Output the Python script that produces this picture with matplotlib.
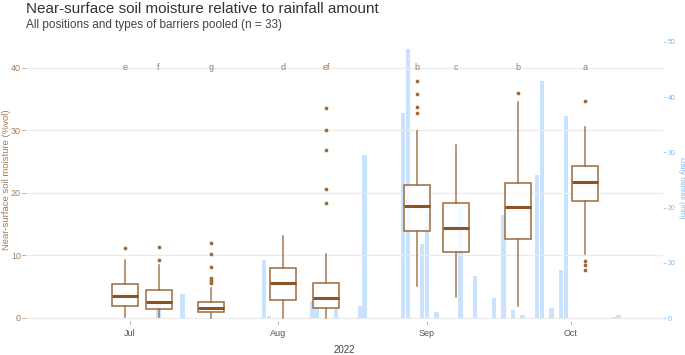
import matplotlib
matplotlib.use("Agg")
import matplotlib.pyplot as plt
import matplotlib.dates as mdates
import numpy as np
import datetime as dt

plt.rcParams['font.family'] = ['Liberation Sans', 'DejaVu Sans']

# ---- data ----
box_dates = ["2022-06-30", "2022-07-07", "2022-07-18", "2022-08-02", "2022-08-11",
             "2022-08-30", "2022-09-07", "2022-09-20", "2022-10-04"]
letters = ["e", "f", "g", "d", "ef", "b", "c", "b", "a"]
whislo = [0.1, 0.1, 0.0, 0.0, 0.0, 5.1, 3.3, 1.9, 10.2]
q1 = [1.9, 1.4, 0.9, 2.9, 1.5, 13.9, 10.6, 12.6, 18.6]
med = [3.5, 2.6, 1.65, 5.6, 3.2, 17.9, 14.4, 17.7, 21.7]
q3 = [5.4, 4.4, 2.6, 8.0, 5.6, 21.2, 18.4, 21.6, 24.3]
whishi = [9.3, 8.4, 4.8, 13.1, 10.2, 29.9, 27.6, 34.5, 30.5]
fliers = [[11.1], [11.3, 9.2], [11.9, 10.2, 8.2, 6.4, 6.1, 5.8, 5.5], [],
          [33.6, 30.0, 26.9, 20.6, 18.4], [37.9, 35.7, 33.7, 32.8], [],
          [36.0], [34.6, 9.1, 8.4, 7.6]]

rain_dates = ["2022-07-07", "2022-07-12", "2022-07-29", "2022-07-30", "2022-08-08",
              "2022-08-09", "2022-08-13", "2022-08-18", "2022-08-19", "2022-08-27",
              "2022-08-28", "2022-08-31", "2022-09-01", "2022-09-03", "2022-09-08",
              "2022-09-11", "2022-09-15", "2022-09-17", "2022-09-19", "2022-09-21",
              "2022-09-24", "2022-09-25", "2022-09-27", "2022-09-29", "2022-09-30",
              "2022-10-10", "2022-10-11"]
rain_mm = [2.5, 4.3, 10.6, 0.4, 3.1, 3.1, 1.7, 2.2, 29.5, 37.2,
           48.7, 13.4, 19.0, 1.1, 20.0, 7.6, 3.7, 18.7, 1.45, 0.5,
           25.9, 43.0, 1.9, 8.7, 36.6, 0.2, 0.55]

month_ticks = ["2022-07-01", "2022-08-01", "2022-09-01", "2022-10-01"]
month_labels = ["Jul", "Aug", "Sep", "Oct"]
left_ticks = [0, 10, 20, 30, 40]
right_ticks = [0, 10, 20, 30, 40, 50]

# ---- styles ----
BROWN = "#9c6b3e"
BROWN_MED = "#8a5426"
BROWN_TXT = "#a57a55"
BLUE_BAR = "#c4e0ff"
BLUE_TXT = "#7db9f2"
GRID = "#ebebeb"

def d2n(s):
    return mdates.date2num(dt.datetime.strptime(s, "%Y-%m-%d"))

bx = [d2n(s) for s in box_dates]
rx = [d2n(s) for s in rain_dates]
mx = [d2n(s) for s in month_ticks]

fig = plt.figure(figsize=(6.85, 3.55), dpi=100)
ax = fig.add_axes([25/685, 1-321/355, (663-25)/685, (321-40)/355])
ax2 = ax.twinx()
ax.set_zorder(ax2.get_zorder() + 1)
ax.patch.set_visible(False)

# rainfall bars
ax2.bar(rx, rain_mm, width=0.92, color=BLUE_BAR, edgecolor="none", alpha=0.9)
ax2.set_ylim(-0.54, 50.36)
ax2.set_yticks(right_ticks)
ax2.tick_params(axis='y', colors=BLUE_TXT, labelsize=5, length=2, width=0.5, pad=1.5)
for lab in ax2.get_yticklabels():
    lab.set_color(BLUE_TXT)
fig.text(681/685, 1-188/355, "Daily rainfall (mm)", color=BLUE_TXT, fontsize=5.5,
         rotation=-90, ha='center', va='center')

# boxplots
stats = []
for i in range(len(bx)):
    stats.append(dict(med=med[i], q1=q1[i], q3=q3[i], whislo=whislo[i],
                      whishi=whishi[i], fliers=fliers[i]))
ax.bxp(stats, positions=bx, widths=5.4, showcaps=False, patch_artist=True,
       boxprops=dict(facecolor=(1, 1, 1, 0.8), edgecolor=BROWN, linewidth=1.1),
       whiskerprops=dict(color=BROWN, linewidth=1.1, alpha=0.9),
       medianprops=dict(color=BROWN_MED, linewidth=2.2),
       flierprops=dict(marker='o', markersize=1.7, markerfacecolor=BROWN,
                       markeredgecolor=BROWN, linestyle='none'),
       manage_ticks=False)

for x, t in zip(bx, letters):
    ax.text(x, 40, t, ha='center', va='center', fontsize=6.5, color=BROWN_TXT)

ax.set_ylim(-0.5, 44.4)
ax.set_yticks(left_ticks)
ax.yaxis.grid(True, color=GRID, linewidth=0.9)
ax.set_axisbelow(True)
ax.tick_params(axis='y', colors=BROWN_TXT, labelsize=6.5, length=2, width=0.5, pad=1)
fig.text(7/685, 1-180/355, "Near-surface soil moisture (%vol)", color=BROWN_TXT,
         fontsize=6.8, rotation=90, ha='center', va='center')

jul1 = d2n("2022-07-01")
ax.set_xlim(jul1 - 21.9, jul1 + 111.3)
ax.set_xticks(mx)
ax.set_xticklabels(month_labels)
ax.tick_params(axis='x', colors="#888888", labelsize=6.5, length=2, width=0.5, pad=4)
for lab in ax.get_xticklabels():
    lab.set_color("#555555")
ax.set_xlabel("2022", fontsize=7, color="#444444", labelpad=5)

for a in (ax, ax2):
    for sp in a.spines.values():
        sp.set_visible(False)

fig.text(26/685, 1-12.7/355, "Near-surface soil moisture relative to rainfall amount",
         fontsize=11, color="#333333", ha='left', va='baseline')
fig.text(26/685, 1-28.3/355, "All positions and types of barriers pooled (n = 33)",
         fontsize=8.5, color="#444444", ha='left', va='baseline')

fig.savefig("out.png", dpi=100)
